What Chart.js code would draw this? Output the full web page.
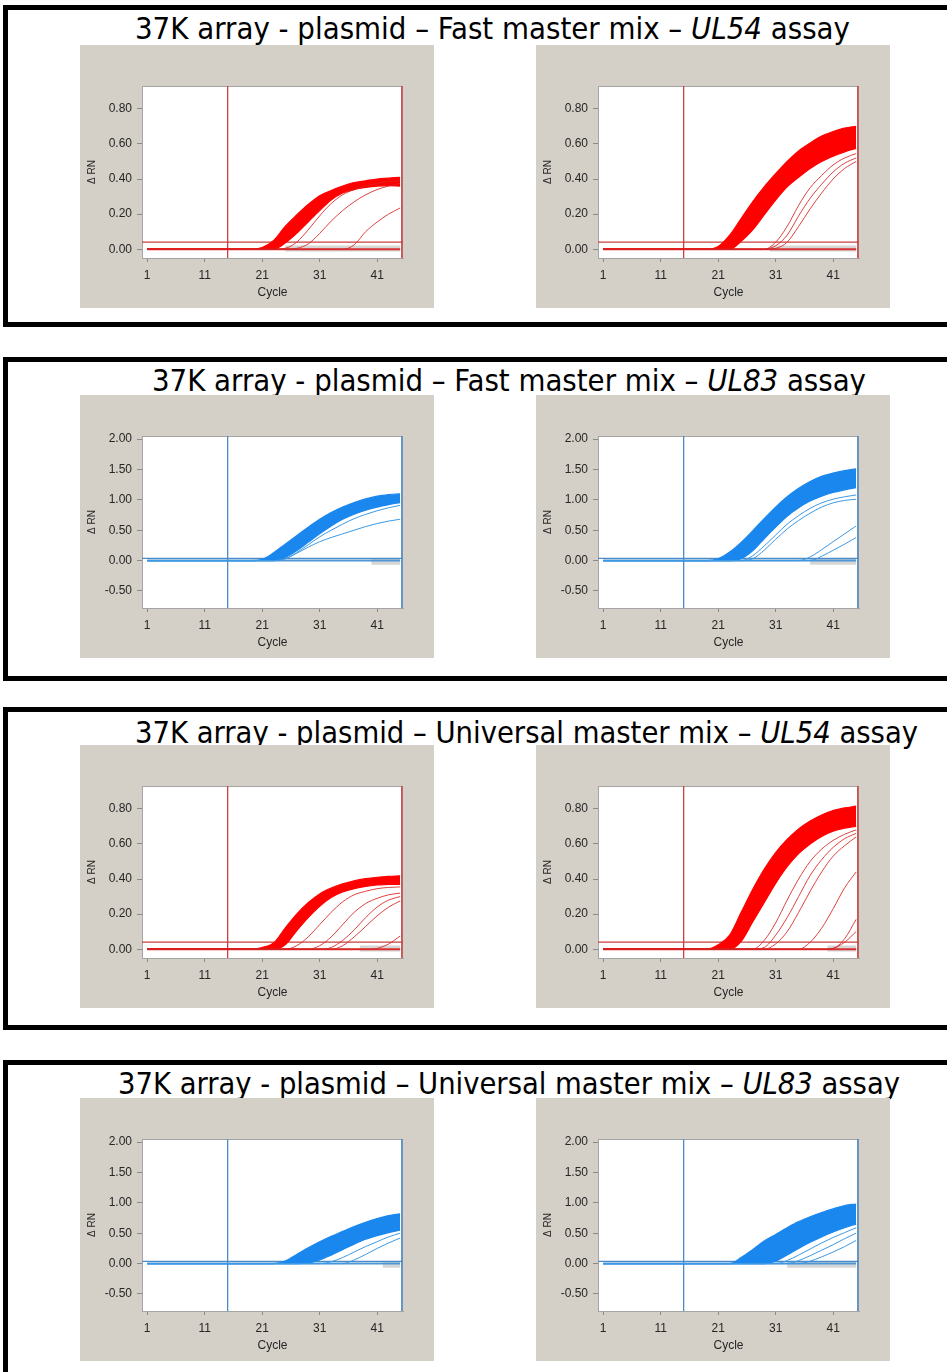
<!DOCTYPE html>
<html>
<head>
<meta charset="utf-8">
<script src="https://cdn.jsdelivr.net/npm/chart.js@4.4.1/dist/chart.umd.min.js"></script>
<style>
  html,body{margin:0;padding:0;}
  body{width:947px;height:1372px;background:#fff;position:relative;overflow:hidden;}
  .panel{position:absolute;left:3px;width:1000px;border:5px solid #000;box-sizing:border-box;}
  .title{position:absolute;white-space:nowrap;font-family:'Liberation Sans Narrow','DejaVu Sans Condensed','DejaVu Sans',sans-serif;font-size:30px;line-height:30px;color:#000;transform-origin:0 50%;}
  .box{position:absolute;width:354px;height:263px;background:#d4d0c8;}
  .box canvas{display:block;}
</style>
</head>
<body>
<div class="panel" style="top:5px;height:322px"></div>
<div class="panel" style="top:357px;height:324px"></div>
<div class="panel" style="top:707px;height:323px"></div>
<div class="panel" style="top:1060px;height:400px"></div>

<div class="title" id="t1" data-x0="135" data-x1="850" data-yc="29">37K array - plasmid – Fast master mix – <i>UL54</i> assay</div>
<div class="title" id="t2" data-x0="152" data-x1="866" data-yc="381">37K array - plasmid – Fast master mix – <i>UL83</i> assay</div>
<div class="title" id="t3" data-x0="135" data-x1="918" data-yc="733">37K array - plasmid – Universal master mix – <i>UL54</i> assay</div>
<div class="title" id="t4" data-x0="118" data-x1="900" data-yc="1084">37K array - plasmid – Universal master mix –  <i>UL83</i> assay</div>

<div class="box" style="left:80px;top:45px"><canvas id="c1"></canvas></div>
<div class="box" style="left:536px;top:45px"><canvas id="c2"></canvas></div>
<div class="box" style="left:80px;top:395px"><canvas id="c3"></canvas></div>
<div class="box" style="left:536px;top:395px"><canvas id="c4"></canvas></div>
<div class="box" style="left:80px;top:745px"><canvas id="c5"></canvas></div>
<div class="box" style="left:536px;top:745px"><canvas id="c6"></canvas></div>
<div class="box" style="left:80px;top:1098px"><canvas id="c7"></canvas></div>
<div class="box" style="left:536px;top:1098px"><canvas id="c8"></canvas></div>

<script>
// ---------------- DATA ----------------
const CYCLES = [1,17,19,21,23,25,27,29,31,33,35,37,39,41,43,45];
const X_TICKS = [1,11,21,31,41];
const Y_TICKS_UL54 = [0,0.2,0.4,0.6,0.8];
const Y_TICKS_UL83 = [-0.5,0,0.5,1,1.5,2];
const THRESHOLD_UL54 = 0.04;
const THRESHOLD_UL83 = 0.035;
const BASELINE_END_CYCLE = 15;
const LAST_CYCLE_MARK = 45.3;
const NEG_LEVEL_UL54 = 0.004;
const NEG_LEVEL_UL83 = -0.02;
// first cycle where negative-control traces (grey) are visible, charts 1..8
const NEG_START = [25,30,40,37,38,40,42,33];

// Fast master mix, UL54 — left
const fastUL54L_top    = [0,0,0,0.01,0.05,0.13,0.195,0.255,0.305,0.335,0.36,0.38,0.39,0.40,0.405,0.41];
const fastUL54L_bottom = [0,0,0,0,0,0.035,0.09,0.155,0.22,0.28,0.32,0.34,0.352,0.36,0.362,0.36];
const fastUL54L_o1     = [0,0,0,0,0,0.005,0.04,0.11,0.19,0.26,0.31,0.34,0.36,0.375,0.385,0.39];
const fastUL54L_o2     = [0,0,0,0,0,0,0.005,0.03,0.09,0.16,0.22,0.27,0.31,0.34,0.36,0.375];
const fastUL54L_o3     = [0,0,0,0,0,0,0,0,0,0,0,0.025,0.1,0.155,0.2,0.235];
// Fast master mix, UL54 — right
const fastUL54R_top    = [0,0,0,0.015,0.08,0.175,0.27,0.355,0.43,0.50,0.56,0.605,0.645,0.67,0.69,0.70];
const fastUL54R_bottom = [0,0,0,0,0,0.045,0.11,0.195,0.28,0.355,0.41,0.46,0.50,0.53,0.555,0.575];
const fastUL54R_o1     = [0,0,0,0,0,0,0,0,0.04,0.13,0.25,0.35,0.42,0.48,0.52,0.545];
const fastUL54R_o2     = [0,0,0,0,0,0,0,0,0.02,0.08,0.19,0.29,0.37,0.44,0.49,0.52];
const fastUL54R_o3     = [0,0,0,0,0,0,0,0,0.005,0.04,0.13,0.23,0.32,0.40,0.46,0.50];
// Fast master mix, UL83 — left
const fastUL83L_top    = [0,0,0,0.02,0.13,0.27,0.41,0.55,0.68,0.79,0.88,0.955,1.015,1.06,1.085,1.10];
const fastUL83L_bottom = [0,0,0,0,0,0.05,0.16,0.30,0.44,0.57,0.68,0.765,0.83,0.88,0.92,0.955];
const fastUL83L_o1     = [0,0,0,0,0,0.03,0.12,0.22,0.31,0.38,0.44,0.50,0.56,0.61,0.65,0.68];
const fastUL83L_o2     = [0,0,0,0,0,0.03,0.13,0.26,0.39,0.50,0.60,0.69,0.76,0.82,0.87,0.91];
// Fast master mix, UL83 — right
const fastUL83R_top    = [0,0,0,0.03,0.14,0.30,0.49,0.69,0.88,1.05,1.19,1.30,1.385,1.44,1.48,1.51];
const fastUL83R_bottom = [0,0,0,0,0,0.03,0.16,0.36,0.55,0.73,0.87,0.98,1.06,1.12,1.165,1.20];
const fastUL83R_o1     = [0,0,0,0,0,0,0.08,0.24,0.42,0.60,0.74,0.86,0.95,1.01,1.05,1.08];
const fastUL83R_o2     = [0,0,0,0,0,0,0.03,0.17,0.35,0.52,0.66,0.78,0.88,0.95,0.99,1.01];
const fastUL83R_o3     = [0,0,0,0,0,0,0,0,0,0,0,0.06,0.18,0.31,0.44,0.57];
const fastUL83R_o4     = [0,0,0,0,0,0,0,0,0,0,0,0,0.07,0.17,0.27,0.38];
// Universal master mix, UL54 — left
const univUL54L_top    = [0,0,0,0.01,0.035,0.12,0.20,0.265,0.315,0.348,0.372,0.39,0.402,0.41,0.415,0.418];
const univUL54L_bottom = [0,0,0,0,0,0.025,0.105,0.18,0.245,0.295,0.327,0.345,0.358,0.366,0.37,0.37];
const univUL54L_o1     = [0,0,0,0,0,0,0.02,0.07,0.14,0.21,0.27,0.31,0.33,0.345,0.352,0.355];
const univUL54L_o2     = [0,0,0,0,0,0,0,0,0.02,0.07,0.14,0.21,0.26,0.29,0.31,0.32];
const univUL54L_o3     = [0,0,0,0,0,0,0,0,0,0.01,0.05,0.11,0.18,0.24,0.28,0.30];
const univUL54L_o4     = [0,0,0,0,0,0,0,0,0,0,0.02,0.07,0.13,0.19,0.24,0.275];
const univUL54L_o5     = [0,0,0,0,0,0,0,0,0,0,0,0,0,0.005,0.03,0.075];
// Universal master mix, UL54 — right
const univUL54R_top    = [0,0,0,0.025,0.08,0.21,0.34,0.455,0.55,0.625,0.685,0.73,0.765,0.79,0.805,0.815];
const univUL54R_bottom = [0,0,0,0,0,0.045,0.155,0.265,0.375,0.47,0.545,0.60,0.643,0.673,0.69,0.70];
const univUL54R_o1     = [0,0,0,0,0,0,0,0.05,0.15,0.28,0.40,0.50,0.57,0.62,0.655,0.68];
const univUL54R_o2     = [0,0,0,0,0,0,0,0.01,0.08,0.18,0.30,0.42,0.51,0.58,0.63,0.66];
const univUL54R_o3     = [0,0,0,0,0,0,0,0,0.03,0.10,0.21,0.33,0.44,0.53,0.59,0.64];
const univUL54R_o4     = [0,0,0,0,0,0,0,0,0,0,0,0.04,0.12,0.23,0.35,0.44];
const univUL54R_o5     = [0,0,0,0,0,0,0,0,0,0,0,0,0,0.005,0.06,0.17];
const univUL54R_o6     = [0,0,0,0,0,0,0,0,0,0,0,0,0,0.005,0.04,0.10];
// Universal master mix, UL83 — left
const univUL83L_top    = [0,0,0,0,0,0.04,0.15,0.26,0.36,0.45,0.53,0.61,0.68,0.74,0.79,0.82];
const univUL83L_bottom = [0,0,0,0,0,0,0,0.01,0.06,0.14,0.23,0.32,0.40,0.46,0.51,0.55];
const univUL83L_o1     = [0,0,0,0,0,0,0,0,0,0.03,0.10,0.19,0.28,0.36,0.44,0.50];
const univUL83L_o2     = [0,0,0,0,0,0,0,0,0,0,0,0.06,0.15,0.25,0.34,0.42];
// Universal master mix, UL83 — right
const univUL83R_top    = [0,0,0,0,0,0.10,0.23,0.37,0.48,0.59,0.69,0.77,0.84,0.90,0.955,0.98];
const univUL83R_bottom = [0,0,0,0,0,0,0,0,0.04,0.14,0.25,0.35,0.44,0.52,0.59,0.65];
const univUL83R_o1     = [0,0,0,0,0,0,0,0,0,0.05,0.14,0.24,0.34,0.43,0.51,0.59];
const univUL83R_o2     = [0,0,0,0,0,0,0,0,0,0,0.05,0.13,0.22,0.31,0.41,0.50];
const univUL83R_o3     = [0,0,0,0,0,0,0,0,0,0,0,0.04,0.11,0.19,0.28,0.38];

// ---------------- CHARTS ----------------
const CHARTS = [
  {id:'c1', assay:'UL54', top:fastUL54L_top, bottom:fastUL54L_bottom, out:[fastUL54L_o1,fastUL54L_o2,fastUL54L_o3], neg:NEG_START[0]},
  {id:'c2', assay:'UL54', top:fastUL54R_top, bottom:fastUL54R_bottom, out:[fastUL54R_o1,fastUL54R_o2,fastUL54R_o3], neg:NEG_START[1]},
  {id:'c3', assay:'UL83', top:fastUL83L_top, bottom:fastUL83L_bottom, out:[fastUL83L_o1,fastUL83L_o2], neg:NEG_START[2]},
  {id:'c4', assay:'UL83', top:fastUL83R_top, bottom:fastUL83R_bottom, out:[fastUL83R_o1,fastUL83R_o2,fastUL83R_o3,fastUL83R_o4], neg:NEG_START[3]},
  {id:'c5', assay:'UL54', top:univUL54L_top, bottom:univUL54L_bottom, out:[univUL54L_o1,univUL54L_o2,univUL54L_o3,univUL54L_o4,univUL54L_o5], neg:NEG_START[4]},
  {id:'c6', assay:'UL54', top:univUL54R_top, bottom:univUL54R_bottom, out:[univUL54R_o1,univUL54R_o2,univUL54R_o3,univUL54R_o4,univUL54R_o5,univUL54R_o6], neg:NEG_START[5]},
  {id:'c7', assay:'UL83', top:univUL83L_top, bottom:univUL83L_bottom, out:[univUL83L_o1,univUL83L_o2], neg:NEG_START[6]},
  {id:'c8', assay:'UL83', top:univUL83R_top, bottom:univUL83R_bottom, out:[univUL83R_o1,univUL83R_o2,univUL83R_o3], neg:NEG_START[7]}
];

const framePlugin = {
  id:'frame',
  beforeDraw(chart){
    const {ctx, chartArea:a, width, height} = chart;
    ctx.save();
    ctx.fillStyle = '#d4d0c8';
    ctx.fillRect(0,0,width,height);
    ctx.fillStyle = '#ffffff';
    ctx.fillRect(a.left,a.top,a.right-a.left,a.bottom-a.top);
    ctx.strokeStyle = '#a4a4a4';
    ctx.lineWidth = 1;
    ctx.strokeRect(a.left+0.5,a.top+0.5,a.right-a.left-1,a.bottom-a.top);
    ctx.restore();
  }
};

const FONT = "'Liberation Sans', Arial, sans-serif";

function makeChart(cfg){
  const red = cfg.assay === 'UL54';
  const col = red
    ? {band:'#ff0000', thin:'rgba(214,34,34,0.85)', line:'#c8413f', base:'#d83030'}
    : {band:'#1a87ee', thin:'#3d99e4', line:'#4b8cc6', base:'#4f97d6'};
  const thr = red ? THRESHOLD_UL54 : THRESHOLD_UL83;
  const negLevel = red ? NEG_LEVEL_UL54 : NEG_LEVEL_UL83;
  const yMin = red ? -0.05 : -0.78;
  const yMax = red ? 0.93 : 2.05;
  const yTicks = red ? Y_TICKS_UL54 : Y_TICKS_UL83;
  const pts = v => CYCLES.map((c,i)=>({x:c, y:v[i]}));
  const line = (data, color, w, order, extra) => Object.assign({
    data, borderColor:color, borderWidth:w, pointRadius:0, fill:false,
    cubicInterpolationMode:'monotone', order
  }, extra||{});

  const datasets = [];
  datasets.push(line(pts(cfg.top), col.band, 1.2, 2, {fill:'+1', backgroundColor:col.band}));
  datasets.push(line(pts(cfg.bottom), col.band, 1.2, 2));
  cfg.out.forEach(o => datasets.push(line(pts(o), col.thin, 1, 1)));
  datasets.push(line([{x:cfg.neg,y:negLevel},{x:45,y:negLevel}], '#d6d6d6', 6, 9));
  datasets.push(line([{x:1,y:0},{x:45,y:0}], col.base, 2, 8));
  datasets.push(line([{x:0,y:thr},{x:46,y:thr}], col.line, 1.3, 7));
  datasets.push(line([{x:BASELINE_END_CYCLE,y:-5},{x:BASELINE_END_CYCLE,y:5}], col.line, 1.3, 6));
  datasets.push(line([{x:LAST_CYCLE_MARK,y:-5},{x:LAST_CYCLE_MARK,y:5}], col.line, 1.5, 6));

  const tickFont = {family:FONT, size:12};
  new Chart(document.getElementById(cfg.id), {
    type:'line',
    data:{datasets},
    plugins:[framePlugin],
    options:{
      responsive:false, animation:false, events:[],
      layout:{padding:{top:41, right:31, left:0, bottom:0}},
      plugins:{legend:{display:false}, tooltip:{enabled:false}},
      scales:{
        x:{
          type:'linear', min:0.1, max:45.5,
          afterBuildTicks:s=>{ s.ticks = X_TICKS.map(v=>({value:v})); },
          afterFit:s=>{ s.height = 50; },
          grid:{drawOnChartArea:false, drawTicks:true, tickLength:4, color:'#8a8a8a'},
          border:{display:true, color:'#a4a4a4'},
          ticks:{font:tickFont, color:'#262626', padding:6, maxRotation:0, autoSkip:false, callback:v=>String(v)},
          title:{display:true, text:'Cycle', font:{family:FONT,size:12}, color:'#262626', padding:{top:0,bottom:8}}
        },
        y:{
          type:'linear', min:yMin, max:yMax,
          afterBuildTicks:s=>{ s.ticks = yTicks.map(v=>({value:v})); },
          afterFit:s=>{ s.width = 62; },
          grid:{drawOnChartArea:false, drawTicks:true, tickLength:5, color:'#8a8a8a'},
          border:{display:true, color:'#a4a4a4'},
          ticks:{font:tickFont, color:'#262626', padding:5, callback:v=>Number(v).toFixed(2)},
          title:{display:true, text:'Δ RN', font:{family:FONT,size:10}, color:'#262626', padding:{top:6,bottom:0}}
        }
      }
    }
  });
}

document.querySelectorAll('canvas').forEach(c=>{ c.width = 354; c.height = 263; });
CHARTS.forEach(makeChart);

document.querySelectorAll('.title').forEach(t=>{
  const x0 = +t.dataset.x0, x1 = +t.dataset.x1, yc = +t.dataset.yc;
  t.style.left = x0 + 'px';
  t.style.top = (yc - 15) + 'px';
  const w = t.getBoundingClientRect().width;
  t.style.transform = 'scaleX(' + ((x1 - x0) / w) + ')';
});
</script>
</body>
</html>
